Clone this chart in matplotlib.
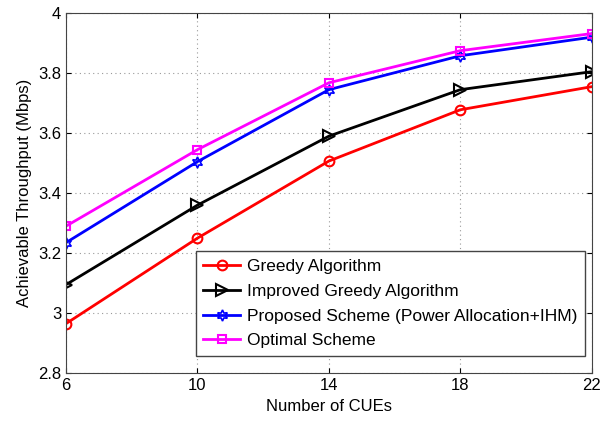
import matplotlib
matplotlib.use('Agg')
import matplotlib.pyplot as plt

plt.rcParams['font.family'] = ['Liberation Sans', 'DejaVu Sans']

cues = [6, 10, 14, 18, 22]
greedy = [2.965, 3.25, 3.507, 3.678, 3.755]
improved = [3.095, 3.36, 3.59, 3.745, 3.805]
proposed = [3.235, 3.505, 3.745, 3.858, 3.92]
optimal = [3.29, 3.545, 3.768, 3.875, 3.932]

labels = ['Greedy Algorithm', 'Improved Greedy Algorithm',
          'Proposed Scheme (Power Allocation+IHM)', 'Optimal Scheme']

f = plt.figure(figsize=(6.02, 4.25), dpi=100)
ax = f.add_axes([0.1096, 0.122, 0.8734, 0.847])

ax.plot(cues, greedy, color='#ff0000', lw=2, marker='o', ms=7, mfc='none', mew=1.5, label=labels[0])
ax.plot(cues, improved, color='black', lw=2, marker='>', ms=8, mfc='none', mew=1.5, label=labels[1])
ax.plot(cues, proposed, color='#0000ff', lw=2, marker=(6, 1, 0), ms=8, mfc='none', mew=1.2, label=labels[2])
ax.plot(cues, optimal, color='#ff00ff', lw=2, marker='s', ms=6, mfc='none', mew=1.5, label=labels[3])

ax.set_xlim(6, 22)
ax.set_ylim(2.8, 4)
ax.set_xticks(cues)
ax.set_yticks([2.8, 3, 3.2, 3.4, 3.6, 3.8, 4])
ax.set_yticklabels(['2.8', '3', '3.2', '3.4', '3.6', '3.8', '4'])
ax.grid(True, linestyle=(0, (1, 3)), color='#999999', lw=0.8)
ax.tick_params(direction='in', labelsize=12, top=True, right=True)
for s in ax.spines.values():
    s.set_color('#444444')

ax.set_xlabel('Number of CUEs', fontsize=12)
ax.set_ylabel('Achievable Throughput (Mbps)', fontsize=12)

leg = ax.legend(loc='lower right', fontsize=12.5, fancybox=False, edgecolor='#444444',
                handlelength=2.1, handletextpad=0.4, borderaxespad=0, labelspacing=0.55,
                borderpad=0.45, framealpha=1, bbox_to_anchor=(0.987, 0.047))
leg.get_frame().set_linewidth(1)

plt.savefig('out.png', dpi=100)
